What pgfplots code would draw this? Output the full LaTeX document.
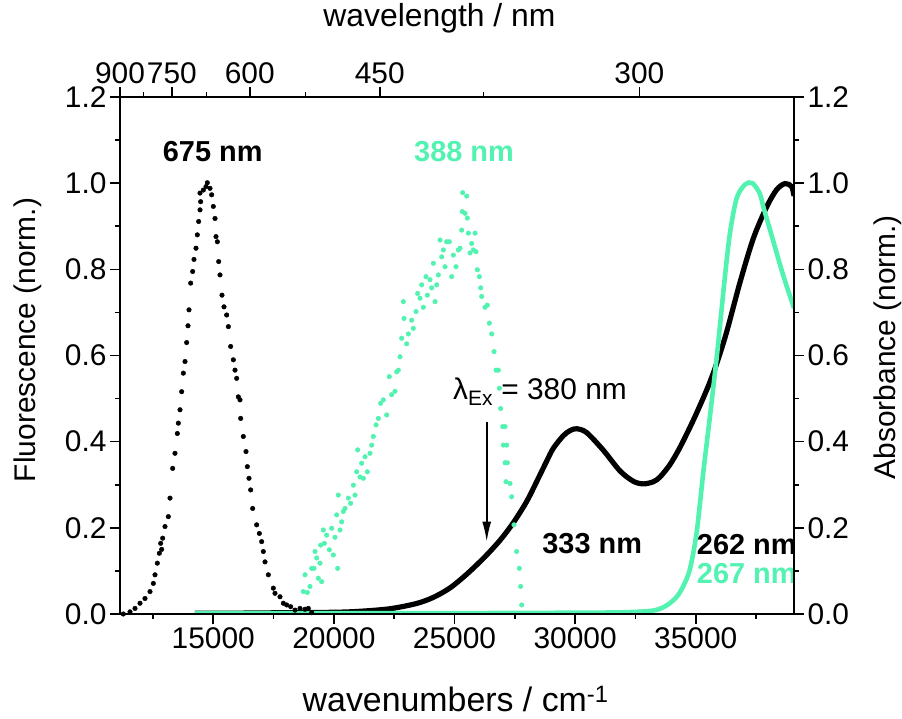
\documentclass[border=0pt]{standalone}
\usepackage{fontspec}
\setmainfont{Liberation Sans}
\usepackage{pgfplots}
\usepackage{pgfplotstable}
\pgfplotsset{compat=1.18}
\usetikzlibrary{arrows.meta}
\definecolor{aqua}{RGB}{82,242,176}

\pgfplotstableread{
x y
11270 0.000
11547 0.005
11754 0.013
11961 0.025
12168 0.036
12376 0.052
12514 0.071
12583 0.091
12680 0.118
12763 0.141
12818 0.164
12860 0.150
12901 0.176
12998 0.203
13136 0.226
13205 0.269
13316 0.338
13412 0.373
13509 0.419
13551 0.443
13620 0.474
13689 0.516
13758 0.559
13827 0.586
13896 0.630
13951 0.669
13993 0.706
14062 0.768
14145 0.795
14200 0.823
14283 0.849
14338 0.880
14393 0.911
14449 0.938
14476 0.957
14449 0.977
14587 0.984
14698 0.992
14753 1.001
14863 0.988
14932 0.973
15001 0.946
15071 0.918
15112 0.876
15168 0.864
15223 0.818
15278 0.787
15361 0.740
15444 0.713
15554 0.694
15624 0.667
15720 0.621
15831 0.590
15900 0.566
15969 0.547
16038 0.504
16107 0.497
16135 0.454
16245 0.412
16356 0.377
16411 0.342
16480 0.315
16549 0.288
16632 0.245
16798 0.207
16909 0.187
17005 0.168
17074 0.145
17144 0.121
17282 0.091
17489 0.060
17558 0.048
17765 0.040
17903 0.025
18042 0.021
18208 0.017
18388 0.009
18595 0.013
18802 0.011
18940 0.013
19078 0.003
}\flblack

\pgfplotstableread{
x y
18733 0.052
18802 0.091
18899 0.050
19009 0.064
19078 0.106
19175 0.106
19217 0.145
19286 0.130
19355 0.083
19424 0.118
19451 0.160
19493 0.075
19562 0.195
19604 0.164
19700 0.183
19811 0.149
19908 0.199
19977 0.137
20046 0.178
20115 0.230
20156 0.106
20184 0.276
20253 0.195
20322 0.214
20391 0.238
20460 0.245
20599 0.269
20695 0.257
20806 0.299
20875 0.276
20944 0.330
20985 0.381
21082 0.318
21151 0.350
21220 0.315
21290 0.365
21386 0.330
21497 0.373
21566 0.392
21635 0.412
21746 0.439
21843 0.454
21939 0.489
22050 0.497
22188 0.462
22298 0.551
22395 0.509
22533 0.517
22602 0.562
22672 0.566
22741 0.597
22810 0.640
22879 0.725
22907 0.686
23017 0.627
23086 0.650
23224 0.682
23293 0.663
23404 0.702
23473 0.744
23570 0.733
23639 0.764
23708 0.712
23818 0.783
23874 0.740
23984 0.776
24053 0.757
24123 0.814
24192 0.725
24261 0.764
24330 0.787
24399 0.868
24468 0.829
24537 0.845
24606 0.806
24675 0.864
24786 0.864
24883 0.783
24952 0.833
25062 0.806
25159 0.845
25228 0.849
25297 0.891
25325 0.934
25339 0.978
25436 0.930
25505 0.970
25532 0.919
25574 0.884
25643 0.838
25712 0.860
25781 0.845
25850 0.884
25891 0.841
25947 0.799
26030 0.783
26085 0.757
26127 0.737
26265 0.712
26362 0.717
26444 0.675
26541 0.650
26638 0.609
26721 0.566
26818 0.566
26859 0.524
26914 0.477
26997 0.435
27094 0.435
27024 0.392
27163 0.392
27094 0.351
27190 0.351
27135 0.307
27301 0.303
27370 0.272
27467 0.207
27577 0.145
27688 0.106
27743 0.064
27785 0.021
}\flgreen

\pgfplotstableread{
x y
14240 0.002
16000 0.002
18000 0.003
20000 0.004
21000 0.006
22300 0.012
23400 0.024
24100 0.038
24800 0.060
25500 0.092
26265 0.133
26900 0.172
27440 0.212
28000 0.262
28500 0.318
28822 0.355
29100 0.385
29513 0.414
29800 0.426
30065 0.430
30480 0.421
31171 0.380
31862 0.332
32415 0.308
32829 0.302
33244 0.307
33520 0.318
33935 0.347
34350 0.387
34902 0.450
35455 0.520
35850 0.578
36284 0.655
36837 0.770
37390 0.872
37942 0.945
38357 0.985
38702 0.999
38979 0.992
39075 0.970
}\abblack

\pgfplotstableread{
x y
14240 0.002
20000 0.002
25000 0.002
30000 0.003
32000 0.004
33244 0.008
33797 0.020
34212 0.040
34488 0.065
34764 0.105
35040 0.190
35317 0.330
35593 0.460
35869 0.595
36007 0.670
36215 0.785
36422 0.885
36698 0.965
37044 0.997
37350 1.000
37666 0.975
37804 0.945
38219 0.865
38633 0.785
39075 0.710
}\abgreen

\begin{document}
\begin{tikzpicture}
\pgfplotsset{
  common/.style={
    scale only axis, width=674bp, height=517bp,
    xmin=11132, xmax=39075, ymin=0, ymax=1.2,
    scaled x ticks=false, scaled y ticks=false,
    axis line style={line width=1.6bp},
    tick align=outside,
    major tick length=10bp, minor tick length=5bp,
    every tick/.style={black, line width=1.6bp},
    tick label style={font=\fontsize{30}{30}\selectfont},
    /pgf/number format/assume math mode=true,
    ytick={0,0.2,0.4,0.6,0.8,1.0,1.2},
    minor ytick={0.1,0.3,0.5,0.7,0.9,1.1},
    yticklabel style={/pgf/number format/.cd, fixed, fixed zerofill, precision=1},
    clip mode=individual,
  }
}
\begin{axis}[common,
  xtick pos=left, ytick pos=left,
  xtick={15000,20000,25000,30000,35000},
  minor xtick={12500,17500,22500,27500,32500,37500},
  xticklabel style={/pgf/number format/1000 sep={}},
  xlabel={wavenumbers / cm\textsuperscript{-1}},
  xlabel style={font=\fontsize{34}{34}\selectfont, at={(axis description cs:0.498,-0.1895)}, anchor=base},
  ylabel={Fluorescence (norm.)},
  ylabel style={font=\fontsize{30}{30}\selectfont, at={(axis description cs:-0.1261,0.53)}, anchor=base},
]
\addplot[black, line width=5.2bp, smooth, tension=0.5] table {\abblack};
\addplot[aqua, line width=4.6bp, smooth, tension=0.5] table {\abgreen};
\addplot[only marks, mark=*, mark size=2.3bp, black] table {\flblack};
\addplot[only marks, mark=*, mark size=2.3bp, aqua, mark options={draw=aqua, fill=aqua}] table {\flgreen};

\node[font=\bfseries\fontsize{29}{29}\selectfont, anchor=base] at (axis cs:14975,1.050) {675 nm};
\node[font=\bfseries\fontsize{29}{29}\selectfont, anchor=base, text=aqua] at (axis cs:25394,1.050) {388 nm};
\node[font=\fontsize{30}{30}\selectfont, anchor=base west, inner sep=0pt] at (axis cs:24938,0.497) {λ\textsubscript{Ex} = 380 nm};
\draw[-{Latex[length=20bp,width=9bp]}, line width=1.6bp] (axis cs:26335,0.446) -- (axis cs:26335,0.168);
\node[font=\bfseries\fontsize{29}{29}\selectfont, anchor=base] at (axis cs:30709,0.141) {333 nm};
\node[font=\bfseries\fontsize{29}{29}\selectfont, anchor=base east, inner sep=0pt] at (axis cs:39188,0.137) {262 nm};
\node[font=\bfseries\fontsize{29}{29}\selectfont, anchor=base east, inner sep=0pt, text=aqua] at (axis cs:39188,0.071) {267 nm};
\end{axis}

\begin{axis}[common,
  xtick pos=right, ytick pos=right,
  xticklabel pos=right, yticklabel pos=right,
  xtick={11132,13284,16513,21899,32662},
  xticklabels={900,750,600,450,300},
  minor xtick={12110,14722,18827,26198},
  xlabel={wavelength / nm},
  xlabel style={font=\fontsize{32}{32}\selectfont, at={(axis description cs:0.474,1.1354)}, anchor=base},
  ylabel={Absorbance (norm.)},
  ylabel style={font=\fontsize{30}{30}\selectfont, at={(axis description cs:1.1499,0.516)}, anchor=base, rotate=0},
]
\end{axis}
\pgfresetboundingbox
\path (-120bp,-105bp) rectangle (782bp,614bp);
\end{tikzpicture}
\end{document}
